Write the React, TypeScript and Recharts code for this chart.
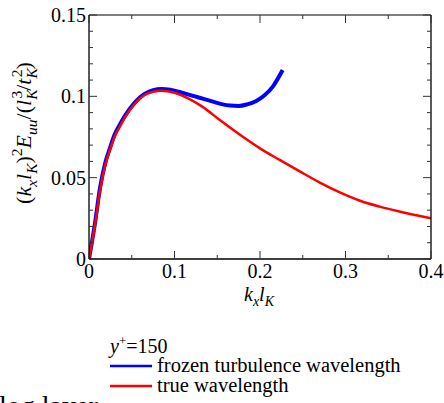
import { LineChart, Line, XAxis, YAxis, Legend, Label } from "recharts";

const FONT = '"Liberation Serif", "Times New Roman", serif';

// axis ticks (labels empty = minor tick)
const xTicks = [0, 0.05, 0.1, 0.15, 0.2, 0.25, 0.3, 0.35, 0.4];
const xTickLabels = ["0", "", "0.1", "", "0.2", "", "0.3", "", "0.4"];
const yTicks = [
  0, 0.01, 0.02, 0.03, 0.04, 0.05, 0.06, 0.07, 0.08, 0.09, 0.1, 0.11, 0.12,
  0.13, 0.14, 0.15,
];
const yTickLabels = [
  "0", "", "", "", "", "0.05", "", "", "", "", "0.1", "", "", "", "", "0.15",
];

// frozen turbulence wavelength (blue)
const frozenKx = [
  0, 0.007, 0.013, 0.019, 0.025, 0.03, 0.036, 0.042, 0.054, 0.065, 0.075,
  0.085, 0.095, 0.105, 0.115, 0.125, 0.135, 0.145, 0.155, 0.165, 0.175, 0.185,
  0.195, 0.205, 0.215, 0.2265,
];
const frozenVal = [
  0, 0.022, 0.044, 0.059, 0.069, 0.0765, 0.0825, 0.088, 0.0965, 0.1015,
  0.1038, 0.1045, 0.104, 0.1028, 0.1013, 0.0998, 0.0983, 0.0967, 0.0952,
  0.0943, 0.0941, 0.0951, 0.097, 0.1005, 0.106, 0.1162,
];

// true wavelength (red)
const trueKx = [
  0, 0.007, 0.013, 0.019, 0.025, 0.03, 0.036, 0.042, 0.054, 0.065, 0.075,
  0.085, 0.1, 0.116, 0.133, 0.153, 0.177, 0.2, 0.223, 0.247, 0.27, 0.294,
  0.317, 0.34, 0.364, 0.387, 0.4,
];
const trueVal = [
  0, 0.021, 0.0424, 0.0578, 0.068, 0.0752, 0.0813, 0.0871, 0.0957, 0.1008,
  0.1028, 0.1035, 0.1022, 0.0988, 0.0935, 0.0854, 0.0762, 0.068, 0.0609,
  0.0537, 0.047, 0.0408, 0.0358, 0.0322, 0.0291, 0.0264, 0.025,
];

const frozenData = frozenKx.map((x, i) => ({ x, y: frozenVal[i] }));
const trueData = trueKx.map((x, i) => ({ x, y: trueVal[i] }));

const TICK = "#333";

function labelFor(ticks: number[], labels: string[], v: number) {
  const i = ticks.findIndex((t) => Math.abs(t - v) < 1e-9);
  return i >= 0 ? labels[i] : "";
}

function BottomTick({ x, y, payload }: any) {
  const label = labelFor(xTicks, xTickLabels, payload.value);
  const len = label ? 8 : 4;
  return (
    <g>
      <line x1={x} y1={y} x2={x} y2={y - len} stroke={TICK} />
      {label && (
        <text x={x} y={y + 19} textAnchor="middle" fontFamily={FONT} fontSize={20} fill="#000">
          {label}
        </text>
      )}
    </g>
  );
}

function TopTick({ x, y, payload }: any) {
  const label = labelFor(xTicks, xTickLabels, payload.value);
  const len = label ? 8 : 4;
  return <line x1={x} y1={y} x2={x} y2={y + len} stroke={TICK} />;
}

function LeftTick({ x, y, payload }: any) {
  const label = labelFor(yTicks, yTickLabels, payload.value);
  const len = label ? 8 : 4;
  return (
    <g>
      <line x1={x} y1={y} x2={x + len} y2={y} stroke={TICK} />
      {label && (
        <text x={x - 3} y={y + 7} textAnchor="end" fontFamily={FONT} fontSize={20} fill="#000">
          {label}
        </text>
      )}
    </g>
  );
}

function RightTick({ x, y, payload }: any) {
  const label = labelFor(yTicks, yTickLabels, payload.value);
  const len = label ? 8 : 4;
  return <line x1={x} y1={y} x2={x - len} y2={y} stroke={TICK} />;
}

type Seg = { t: string; it?: boolean; pos?: "sub" | "sup"; dx?: number };

function Rich({ segs, size, small }: { segs: Seg[]; size: number; small: number }) {
  let cur = 0;
  return (
    <>
      {segs.map((s, i) => {
        const target = s.pos === "sub" ? 0.25 * size : s.pos === "sup" ? -0.42 * size : 0;
        const dy = target - cur;
        cur = target;
        return (
          <tspan
            key={i}
            dy={dy}
            dx={s.dx}
            fontStyle={s.it ? "italic" : "normal"}
            fontSize={s.pos ? small : size}
          >
            {s.t}
          </tspan>
        );
      })}
    </>
  );
}

const xLabelSegs: Seg[] = [
  { t: "k", it: true },
  { t: "x", it: true, pos: "sub" },
  { t: "l", it: true },
  { t: "K", it: true, pos: "sub" },
];

const yLabelSegs: Seg[] = [
  { t: "(" },
  { t: "k", it: true },
  { t: "x", it: true, pos: "sub" },
  { t: "l", it: true },
  { t: "K", it: true, pos: "sub" },
  { t: ")" },
  { t: "2", pos: "sup" },
  { t: "E", it: true },
  { t: "uu", it: true, pos: "sub" },
  { t: "/(" },
  { t: "l", it: true },
  { t: "K", it: true, pos: "sub" },
  { t: "3", pos: "sup", dx: -9 },
  { t: "/" },
  { t: "t", it: true },
  { t: "K", it: true, pos: "sub" },
  { t: "2", pos: "sup", dx: -9 },
  { t: ")" },
];

function XLabel() {
  return (
    <text x={259} y={301} textAnchor="middle" fontFamily={FONT} fontSize={20} fill="#000">
      <Rich segs={xLabelSegs} size={20} small={14} />
    </text>
  );
}

function YLabel() {
  return (
    <text
      x={31}
      y={133}
      transform="rotate(-90 31 133)"
      textAnchor="middle"
      fontFamily={FONT}
      fontSize={22}
      fill="#000"
    >
      <Rich segs={yLabelSegs} size={22} small={15.5} />
    </text>
  );
}

function LegendBox({ payload }: any) {
  const items = payload || [];
  return (
    <svg width={320} height={70} style={{ display: "block" }}>
      <text x={5} y={20} fontFamily={FONT} fontSize={20} fill="#000">
        <tspan fontStyle="italic">y</tspan>
        <tspan dy={-8} fontSize={13}>+</tspan>
        <tspan dy={8}>=150</tspan>
      </text>
      {items.map((it: any, i: number) => (
        <g key={i}>
          <line x1={5} x2={47} y1={33 + i * 20} y2={33 + i * 20} stroke={it.color} strokeWidth={2.5} />
          <text x={52} y={39 + i * 20} fontFamily={FONT} fontSize={20.5} fill="#000">
            {it.value}
          </text>
        </g>
      ))}
    </svg>
  );
}

export default function App() {
  return (
    <div
      style={{
        position: "absolute",
        left: 0,
        top: 0,
        width: 444,
        height: 403,
        overflow: "hidden",
        background: "#fff",
      }}
    >
      <LineChart
        width={444}
        height={403}
        margin={{ top: 14, right: 12, bottom: 143, left: 88 }}
      >
        <XAxis
          dataKey="x"
          type="number"
          domain={[0, 0.4]}
          ticks={xTicks}
          interval={0}
          height={1}
          tickSize={0}
          tickMargin={0}
          tickLine={false}
          tick={<BottomTick />}
          axisLine={{ stroke: "#000", strokeWidth: 1.3 }}
          allowDataOverflow
        >
          <Label content={<XLabel />} />
        </XAxis>
        <XAxis
          xAxisId="top"
          orientation="top"
          dataKey="x"
          type="number"
          domain={[0, 0.4]}
          ticks={xTicks}
          interval={0}
          height={1}
          tickSize={0}
          tickMargin={0}
          tickLine={false}
          tick={<TopTick />}
          axisLine={{ stroke: "#000", strokeWidth: 1 }}
          allowDataOverflow
        />
        <YAxis
          type="number"
          domain={[0, 0.15]}
          ticks={yTicks}
          interval={0}
          width={1}
          tickSize={0}
          tickMargin={0}
          tickLine={false}
          tick={<LeftTick />}
          axisLine={{ stroke: "#000", strokeWidth: 1.3 }}
          allowDataOverflow
        >
          <Label content={<YLabel />} />
        </YAxis>
        <YAxis
          yAxisId="right"
          orientation="right"
          type="number"
          domain={[0, 0.15]}
          ticks={yTicks}
          interval={0}
          width={1}
          tickSize={0}
          tickMargin={0}
          tickLine={false}
          tick={<RightTick />}
          axisLine={{ stroke: "#000", strokeWidth: 1.3 }}
          allowDataOverflow
        />
        <Line
          data={frozenData}
          dataKey="y"
          name="frozen turbulence wavelength"
          type="monotone"
          stroke="#0000ff"
          strokeWidth={4}
          dot={false}
          activeDot={false}
          isAnimationActive={false}
        />
        <Line
          data={trueData}
          dataKey="y"
          name="true wavelength"
          type="monotone"
          stroke="#ff0000"
          strokeWidth={2.5}
          dot={false}
          activeDot={false}
          isAnimationActive={false}
        />
        <Legend
          layout="vertical"
          align="center"
          verticalAlign="middle"
          content={<LegendBox />}
          wrapperStyle={{ position: "absolute", left: 105, top: 333, width: 320, height: 70 }}
        />
      </LineChart>
      <svg
        width={444}
        height={403}
        style={{ position: "absolute", left: 0, top: 0, pointerEvents: "none" }}
      >
        <text x={-1} y={415} fontFamily={FONT} fontSize={28} fill="#000">
          log layer
        </text>
      </svg>
    </div>
  );
}
